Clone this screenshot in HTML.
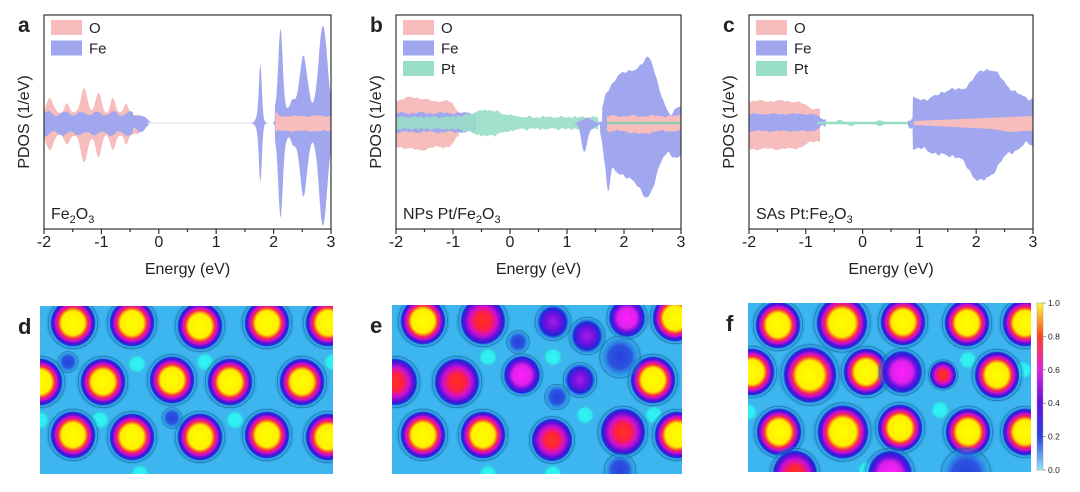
<!DOCTYPE html>
<html><head><meta charset="utf-8">
<style>
html,body{margin:0;padding:0;background:#fff;}
svg{display:block;}
text{font-family:"Liberation Sans",Arial,sans-serif;fill:#222;}
</style></head>
<body>
<svg id="s" width="1080" height="492" viewBox="0 0 1080 492" xmlns="http://www.w3.org/2000/svg">
<defs>
<radialGradient id="blobY" cx="50%" cy="50%" r="50%">
<stop offset="0" stop-color="#ffff00"/><stop offset="0.5" stop-color="#ffee00"/>
<stop offset="0.58" stop-color="#ff8020"/><stop offset="0.66" stop-color="#f0205a"/>
<stop offset="0.75" stop-color="#d010d0"/><stop offset="0.84" stop-color="#5a10d8"/>
<stop offset="0.93" stop-color="#1a2ad8"/><stop offset="1" stop-color="#2a70e8" stop-opacity="0"/>
</radialGradient>
<radialGradient id="blobR" cx="50%" cy="50%" r="50%">
<stop offset="0" stop-color="#ff3020"/><stop offset="0.35" stop-color="#ff2040"/>
<stop offset="0.6" stop-color="#d010d0"/><stop offset="0.8" stop-color="#5a10d8"/>
<stop offset="0.92" stop-color="#1a2ad8"/><stop offset="1" stop-color="#2a70e8" stop-opacity="0"/>
</radialGradient>
<radialGradient id="blobM" cx="50%" cy="50%" r="50%">
<stop offset="0" stop-color="#ff20ff"/><stop offset="0.5" stop-color="#e020e8"/>
<stop offset="0.72" stop-color="#6010e0"/><stop offset="0.9" stop-color="#1a2ad8"/>
<stop offset="1" stop-color="#2a70e8" stop-opacity="0"/>
</radialGradient>
<radialGradient id="blobP" cx="50%" cy="50%" r="50%">
<stop offset="0" stop-color="#a020e8"/><stop offset="0.45" stop-color="#7010e0"/>
<stop offset="0.78" stop-color="#1a2ad8"/><stop offset="1" stop-color="#2a70e8" stop-opacity="0"/>
</radialGradient>
<radialGradient id="blobB" cx="50%" cy="50%" r="50%">
<stop offset="0" stop-color="#2a40e0"/><stop offset="0.6" stop-color="#2a55e0"/>
<stop offset="1" stop-color="#2a80ea" stop-opacity="0"/>
</radialGradient>
<radialGradient id="cy" cx="50%" cy="50%" r="50%">
<stop offset="0" stop-color="#30f4f4"/><stop offset="0.65" stop-color="#30ecf2"/>
<stop offset="1" stop-color="#30c0d0" stop-opacity="0"/>
</radialGradient>
<linearGradient id="cbar" x1="0" y1="0" x2="0" y2="1">
<stop offset="0" stop-color="#ffff30"/><stop offset="0.2" stop-color="#ff4020"/>
<stop offset="0.4" stop-color="#e020e0"/><stop offset="0.6" stop-color="#6010e0"/>
<stop offset="0.8" stop-color="#2a40e0"/><stop offset="1" stop-color="#90e8f8"/>
</linearGradient>
<clipPath id="cd"><rect x="40" y="306" width="293" height="168"/></clipPath>
<clipPath id="ce"><rect x="392" y="305" width="290" height="169"/></clipPath>
<clipPath id="cf"><rect x="748" y="303" width="283" height="169"/></clipPath>
</defs>
<g id="plots"></g>
</svg>
<script>
var NS="http://www.w3.org/2000/svg",G=document.getElementById("plots");
function el(t,a,p,txt){var e=document.createElementNS(NS,t);for(var k in a)e.setAttribute(k,a[k]);if(txt!==undefined)e.textContent=txt;(p||G).appendChild(e);return e;}
function g(E,c,w){return Math.exp(-Math.pow((E-c)/w,2));}
function nz(E,s){return Math.sin(E*17+s)*0.5+Math.sin(E*39+s*2)*0.3+Math.sin(E*63+s*3)*0.2;}
function band(x0,sc,cy,e1,e2,up,dn,fill,op){
 var top=[],bot=[],n=250;
 for(var i=0;i<=n;i++){var E=e1+(e2-e1)*i/n;var x=x0+(E+2)*sc;
  top.push(x.toFixed(1)+","+(cy-Math.max(0,up(E))).toFixed(1));
  bot.unshift(x.toFixed(1)+","+(cy+Math.max(0,dn(E))).toFixed(1));}
 el("polygon",{points:top.concat(bot).join(" "),fill:fill,"fill-opacity":op||1});
}
var PINK="#f7bcbc",BLUE="#a0a7ef",GREEN="#98dec6";
function axes(x0,x1,top,bot,letter,name,sub,legend){
 el("rect",{x:x0,y:top,width:x1-x0,height:bot-top,fill:"none",stroke:"#333","stroke-width":1.2});
 var sc=(x1-x0)/5;
 for(var i=0;i<=10;i++){var x=x0+i*sc/2;el("line",{x1:x,y1:bot,x2:x,y2:bot+(i%2?3:5),stroke:"#333","stroke-width":1.2});}
 var labs=["-2","-1","0","1","2","3"];
 for(var i=0;i<6;i++)el("text",{x:x0+i*sc,y:bot+18,"font-size":16,"text-anchor":"middle"},null,labs[i]);
 el("text",{x:(x0+x1)/2,y:bot+45,"font-size":16,"text-anchor":"middle"},null,"Energy (eV)");
 el("text",{x:0,y:0,"font-size":16,"text-anchor":"middle",transform:"translate("+(x0-15)+",122) rotate(-90)"},null,"PDOS (1/eV)");
 el("text",{x:x0-26,y:32,"font-size":21,"font-weight":"bold"},null,letter);
 var t=el("text",{x:x0+7,y:bot-10,"font-size":16});
 var parts=name;for(var j=0;j<parts.length;j++){el("tspan",parts[j][1]?{"font-size":11,dy:4}:{dy:j>0&&parts[j-1][1]?-4:0},t,parts[j][0]);}
 var cols={O:PINK,Fe:BLUE,Pt:GREEN};
 for(var k=0;k<legend.length;k++){var y=20+k*20.5;
  el("rect",{x:x0+7,y:y,width:31,height:15,fill:cols[legend[k]]});
  el("text",{x:x0+45,y:y+13,"font-size":15},null,legend[k]);}
}
(function(){var x0=44,sc=57.4,cy=123;
 band(x0,sc,cy,-2,-0.25,function(E){return 10+15*g(E,-1.9,.08)+10*g(E,-1.6,.06)+25*g(E,-1.3,.08)+20*g(E,-1.05,.07)+15*g(E,-0.8,.06)+10*g(E,-0.57,.05)+4*g(E,-0.35,.04)-8*g(E,-0.3,.1)+1*nz(E,1);},
  function(E){return 12+15*g(E,-1.9,.08)+10*g(E,-1.6,.06)+28*g(E,-1.3,.08)+22*g(E,-1.05,.07)+15*g(E,-0.8,.06)+10*g(E,-0.57,.05)+4*g(E,-0.35,.04)-8*g(E,-0.3,.1)+1*nz(E,2);},PINK);
 band(x0,sc,cy,-2,-0.15,function(E){return (E<-0.45?9:9*g(E,-0.35,.12))+2*Math.sin(E*22)+0.8*nz(E,3)+0.5;},function(E){return (E<-0.45?10:9*g(E,-0.35,.12))+2*Math.sin(E*22+1)+0.8*nz(E,4)+0.5;},BLUE);
 band(x0,sc,cy,-0.2,1.6,function(){return 0.6;},function(){return 0.6;},"#e4e4f0");
 function fe(s){return function(E){var b=(E>2.02?14+8*g(E,2.35,.06)+3*nz(E,s):0);return 9*g(E,1.75,.07)+50*g(E,1.77,.035)+80*g(E,2.12,.055)+(55+s)*g(E,2.52,.09)+(86+s)*g(E,2.86,.1)+b;};}
 band(x0,sc,cy,1.6,3,fe(0),fe(2),BLUE);
 band(x0,sc,cy,2.03,3,function(E){return 7+3*g(E,2.05,.03)+1*nz(E,5);},function(E){return 8+1*nz(E,6);},PINK);
 axes(44,331,15,229,"a",[["Fe"],["2",1],["O"],["3",1]],0,["O","Fe"]);
})();
(function(){var x0=396,sc=57,cy=123;
 band(x0,sc,cy,-2,-0.9,function(E){return 22+4*g(E,-1.7,.2)-10*g(E,-0.9,.1)+1.5*nz(E,1);},function(E){return 24+3*g(E,-1.6,.2)-10*g(E,-0.9,.1)+1.5*nz(E,2);},PINK);
 band(x0,sc,cy,-2,-0.6,function(E){return 10+1.5*nz(E,3);},function(E){return 9+1.5*nz(E,4);},BLUE);
 band(x0,sc,cy,-2,1.55,function(E){return 5+7*g(E,-0.4,.35)+2.5*Math.abs(nz(E,5));},function(E){return 5+7*g(E,-0.4,.35)+2.5*Math.abs(nz(E,6));},GREEN,0.9);
 band(x0,sc,cy,1.1,1.7,function(E){return 5*g(E,1.35,.12);},function(E){return 25*g(E,1.3,.07)+6*g(E,1.4,.15);},BLUE);
 band(x0,sc,cy,1.5,3,function(E){return (E<1.62?0:Math.min(1,(E-1.55)*8))*(15+38*g(E,2.1,.45)+30*g(E,2.45,.15)-8*g(E,2.8,.1))+2.5*nz(E,7);},
  function(E){return (E<1.58?0:Math.min(1,(E-1.55)*10))*(30+30*g(E,1.72,.05)+25*g(E,2.05,.3)+40*g(E,2.42,.18)+4*g(E,2.9,.1))+3*nz(E,8);},BLUE);
 band(x0,sc,cy,1.7,3,function(E){return 7+1.5*nz(E,9);},function(E){return 8+3*g(E,2.3,.2)+1.5*nz(E,10);},PINK);
 band(x0,sc,cy,1.7,3,function(){return 1.2;},function(){return 1.2;},"#8cc9b0");
 axes(396,681,15,229,"b",[["NPs Pt/Fe"],["2",1],["O"],["3",1]],0,["O","Fe","Pt"]);
})();
(function(){var x0=749,sc=56.8,cy=123;
 band(x0,sc,cy,-2,-0.75,function(E){return 22-8*g(E,-0.8,.25)+1.5*nz(E,1);},function(E){return 26-8*g(E,-0.8,.25)+1.5*nz(E,2);},PINK);
 band(x0,sc,cy,-2,-0.65,function(E){return 9-5*g(E,-0.7,.1)+1*nz(E,3);},function(E){return 8-5*g(E,-0.7,.1)+1*nz(E,4);},BLUE);
 band(x0,sc,cy,-0.8,0.9,function(E){return 1.2+2*g(E,-0.4,.05)+1.5*g(E,0.3,.05);},function(E){return 1.2+2*g(E,-0.2,.05)+2*g(E,0.3,.05);},GREEN);
 band(x0,sc,cy,0.8,3,function(E){return (E<0.88?3:24+30*g(E,2.2,.4)+8*g(E,1.5,.2))+2.5*nz(E,5);},function(E){return (E<0.88?3:26+32*g(E,2.1,.35)+6*g(E,1.4,.2)-5*g(E,2.9,.15))+3*nz(E,6);},BLUE);
 band(x0,sc,cy,0.9,3,function(E){return 2+5*(E-0.9)/2.1;},function(E){return 2+6*(E-0.9)/2.1+2*g(E,2.6,.2);},PINK);
 axes(749,1033,15,229,"c",[["SAs Pt:Fe"],["2",1],["O"],["3",1]],0,["O","Fe","Pt"]);
})();
function map(cid,x,y,w,h,letter,blobs,cyans){
 var gg=el("g",{"clip-path":"url(#"+cid+")"});
 el("rect",{x:x,y:y,width:w,height:h,fill:"#3db5ee"},gg);
 for(var i=0;i<cyans.length;i++)el("circle",{cx:cyans[i][0],cy:cyans[i][1],r:10,fill:"url(#cy)"},gg);
 for(var i=0;i<blobs.length;i++){var b=blobs[i];var r=(b[3]||22)*1.1;
  el("ellipse",{cx:b[0],cy:b[1],rx:r*1.12,ry:r*1.12,fill:"#1f8fd8","fill-opacity":0.35},gg);
  el("ellipse",{cx:b[0],cy:b[1],rx:r*0.95,ry:r,fill:"url(#blob"+b[2]+")"},gg);
  el("ellipse",{cx:b[0],cy:b[1],rx:r*1.02,ry:r*1.06,fill:"none",stroke:"#1a4a70","stroke-width":0.6,"stroke-opacity":0.6},gg);}
 el("text",{x:x-22,y:y+28,"font-size":22,"font-weight":"bold"},null,letter);
}
map("cd",40,306,293,168,"d",[
 [73,323,"Y"],[132,323,"Y"],[200,326,"Y"],[267,323,"Y"],[328,323,"Y"],
 [40,382,"Y"],[103,382,"Y"],[172,380,"Y"],[230,382,"Y"],[302,382,"Y"],
 [73,435,"Y"],[132,437,"Y"],[200,437,"Y"],[267,435,"Y"],[328,437,"Y"],
 [68,362,"B",9],[172,418,"B",9]],
 [[137,364],[205,362],[100,420],[235,420],[140,474],[40,420],[333,362]]);
map("ce",392,305,290,169,"e",[
 [423,321,"Y"],[483,321,"R"],[553,322,"P",16],[587,336,"P",16],[627,318,"M",18],[675,318,"Y"],
 [395,382,"R"],[457,382,"R"],[522,375,"M",18],[580,380,"P",15],[653,380,"Y"],
 [518,342,"B",10],[557,397,"B",11],[620,357,"B",18],
 [423,435,"Y"],[483,435,"Y"],[552,440,"R",20],[623,432,"R"],[677,435,"Y"],[620,470,"B",14]],
 [[488,357],[553,357],[585,415],[488,474],[553,474],[654,415]]);
map("cf",748,303,283,169,"f",[
 [778,325,"Y"],[842,323,"Y",25],[903,322,"Y"],[967,323,"Y"],[1025,323,"Y"],
 [752,372,"Y"],[810,375,"Y",26],[866,372,"Y"],[902,372,"M",20],[943,375,"R",13],[997,375,"Y"],
 [779,432,"Y"],[843,432,"Y",25],[900,428,"Y"],[968,432,"Y"],[1025,432,"Y"],
 [795,474,"R"],[890,474,"M"],[966,474,"B"]],
 [[940,410],[902,470],[867,470],[1023,370],[748,412],[968,360]]);
el("rect",{x:1037,y:303,width:6,height:167,fill:"url(#cbar)",stroke:"#999","stroke-width":0.5});
var cl=["1.0","0.8","0.6","0.4","0.2","0.0"];
for(var i=0;i<6;i++){var yy=303+i*167/5;el("line",{x1:1043,y1:yy,x2:1046,y2:yy,stroke:"#666","stroke-width":0.6});
 el("text",{x:1048,y:yy+3,"font-size":8.5,fill:"#444"},null,cl[i]);}
</script>
</body></html>
